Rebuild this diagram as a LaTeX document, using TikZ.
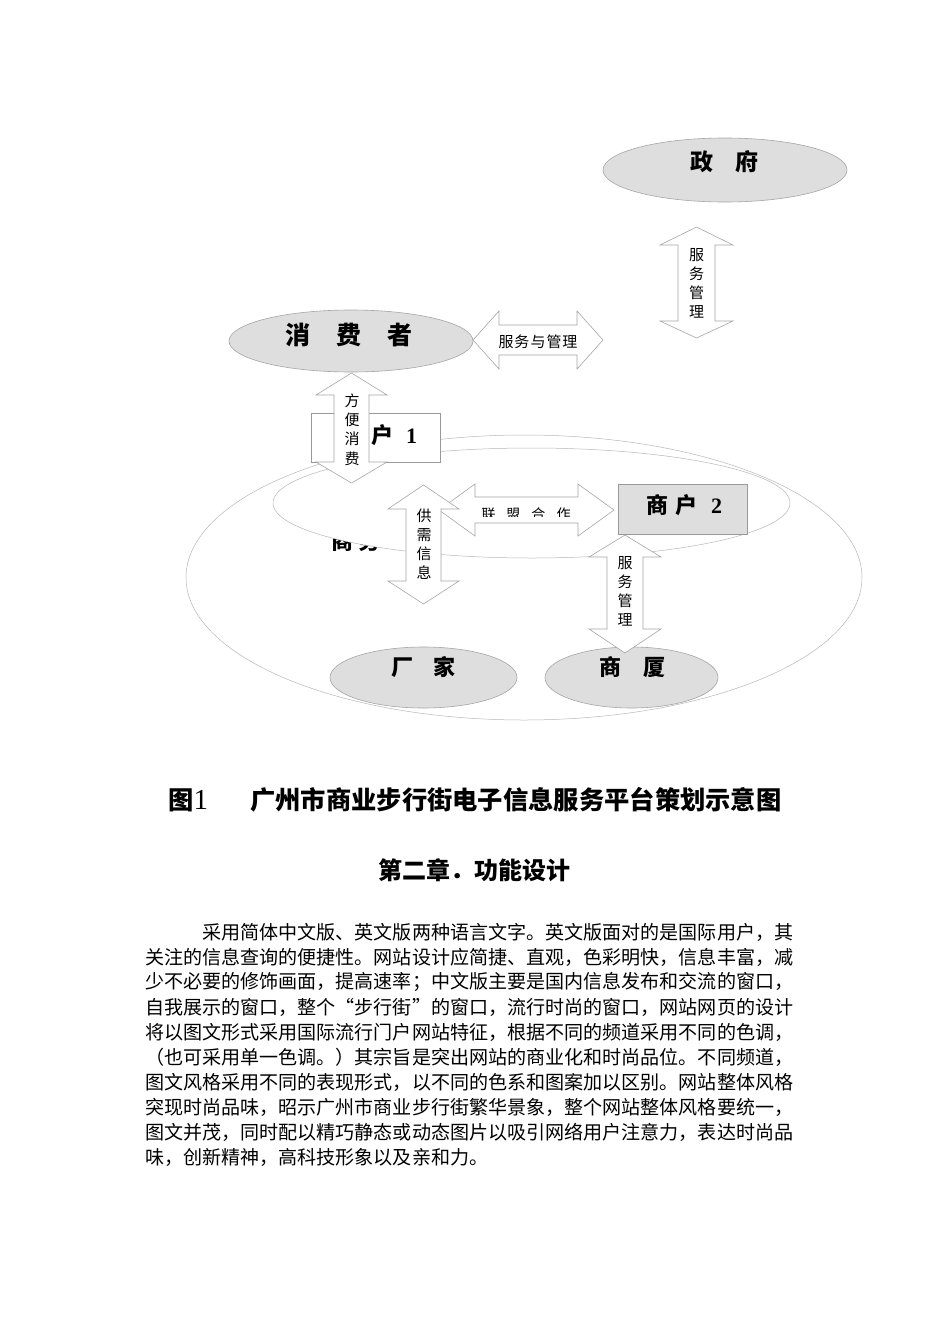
\documentclass[tikz,border=0pt]{standalone}
\usepackage{fontspec}
\setmainfont{Liberation Serif}
\newfontfamily\cjk{Noto Sans CJK SC}
\newcommand\QL{\makebox[1em][r]{“}}
\newcommand\QR{\makebox[1em][l]{”}}
\newcommand\fs[1]{\fontsize{#1}{#1}\selectfont}
% vertical double arrow: xc, half head, half shaft, ytop, yhead1, yhead2, ybot
\newcommand\VArr[7]{%
  \draw[arr] (#1,#4) -- ({#1+#2},#5) -- ({#1+#3},#5) -- ({#1+#3},#6) -- ({#1+#2},#6)
    -- (#1,#7) -- ({#1-#2},#6) -- ({#1-#3},#6) -- ({#1-#3},#5) -- ({#1-#2},#5) -- cycle;}
% horizontal double arrow: yc, half head, half shaft, xleft, xhead1, xhead2, xright
\newcommand\HArr[7]{%
  \draw[arr] (#4,#1) -- (#5,{#1-#2}) -- (#5,{#1-#3}) -- (#6,{#1-#3}) -- (#6,{#1-#2})
    -- (#7,#1) -- (#6,{#1+#2}) -- (#6,{#1+#3}) -- (#5,{#1+#3}) -- (#5,{#1+#2}) -- cycle;}
\tikzset{
  ell/.style={draw=black!35, fill=black!13, line width=0.6pt},
  big/.style={draw=black!28, line width=0.5pt},
  arr/.style={draw=black!35, fill=white, line width=0.6pt, line join=miter},
  box/.style={draw=black!40, line width=0.6pt},
  lab/.style={inner sep=0pt},
  albl/.style={inner sep=0pt, align=center, font=\cjk\fontsize{15}{19.2}\selectfont},
  body/.style={anchor=west, inner sep=0pt, font=\cjk\fontsize{19.06}{25}\selectfont},
}
\begin{document}
\begin{tikzpicture}[x=1pt,y=-1pt]
\useasboundingbox (0,0) rectangle (950,1344);
\fill[white] (0,0) rectangle (950,1344);

% big ellipses
\draw[big] (524,577.5) ellipse [x radius=338, y radius=142.5];
\node[lab, font=\cjk\bfseries\fs{22}] (sw) at (356,541) {商\hspace{6pt}务};
\draw[big, fill=white] (531.5,503) ellipse [x radius=258.5, y radius=55];

% gray ellipses
\draw[ell] (725,170) ellipse [x radius=122, y radius=32];
\node[lab, font=\cjk\bfseries\fs{23}] (gov) at (724.5,162) {政\hspace{22pt}府};
\draw[ell] (351,341) ellipse [x radius=122, y radius=31];
\node[lab, font=\cjk\bfseries\fs{25}] (cons) at (349,335) {消\hspace{26pt}费\hspace{26pt}者};
\draw[ell] (423.5,677.5) ellipse [x radius=93.5, y radius=30.5];
\node[lab, font=\cjk\bfseries\fs{22}] (fac) at (423.5,667) {厂\hspace{21pt}家};
\draw[ell] (631.5,677.5) ellipse [x radius=86.5, y radius=30.5];
\node[lab, font=\cjk\bfseries\fs{22}] (mall) at (632.5,667) {商\hspace{23pt}厦};

% merchant boxes
\draw[box, fill=white] (311,413) rectangle (440,462);
\node[lab, anchor=west, font=\cjk\bfseries\fs{22}] (m1) at (371,435) {户\hspace{13pt}\rmfamily 1};
\draw[box, fill=black!13] (618,484) rectangle (747,534);
\node[lab, font=\cjk\bfseries\fs{22}] (m2) at (684,505) {商\hspace{7pt}户\hspace{14pt}\rmfamily 2};

% arrows
\HArr{340}{29}{15}{473}{499}{577}{603}
\node[albl, font=\cjk\fs{15}] (a1) at (538,342) {服\hspace{1pt}务\hspace{1pt}与\hspace{1pt}管\hspace{1pt}理};
\VArr{696.5}{36.5}{18.5}{227}{245}{321}{338}
\node[albl] (a2) at (696.5,283.5) {服\\务\\管\\理};
\VArr{351.5}{35.5}{17.5}{373}{395}{462}{483}
\node[albl] (a3) at (352,429.5) {方\\便\\消\\费};
\HArr{510}{26}{13}{439}{475}{578}{614}
\begin{scope}
  \clip (478,497) rectangle (576,516);
  \node[lab, font=\cjk\fs{14}] (a4) at (526,514) {联\hspace{11pt}盟\hspace{11pt}合\hspace{11pt}作};
\end{scope}
\VArr{423.5}{35.5}{17.5}{485}{509}{581}{604}
\node[albl] (a5) at (424,544) {供\\需\\信\\息};
\VArr{625}{36}{18}{535}{557}{629}{653}
\node[albl] (a6) at (625,591.5) {服\\务\\管\\理};

% caption and heading
\node[anchor=west, inner sep=0pt, font=\cjk\bfseries\fs{25.3}] (fig) at (168,800) {图\rmfamily\mdseries\fontsize{29}{29}\selectfont 1};
\node[anchor=west, inner sep=0pt, font=\cjk\bfseries\fs{25.3}] (cap) at (250,800) {广州市商业步行街电子信息服务平台策划示意图};
\node[inner sep=0pt, font=\cjk\bfseries\fs{24}] (chap) at (474,870) {第二章．功能设计};

% body text
\node[body] (l1) at (145,932) {\hspace*{3em}采用简体中文版、英文版两种语言文字。英文版面对的是国际用户，其};
\node[body] (l2) at (145,957) {关注的信息查询的便捷性。网站设计应简捷、直观，色彩明快，信息丰富，减};
\node[body] (l3) at (145,982) {少不必要的修饰画面，提高速率；中文版主要是国内信息发布和交流的窗口，};
\node[body] (l4) at (145,1007) {自我展示的窗口，整个\QL 步行街\QR 的窗口，流行时尚的窗口，网站网页的设计};
\node[body] (l5) at (145,1032) {将以图文形式采用国际流行门户网站特征，根据不同的频道采用不同的色调，};
\node[body] (l6) at (145,1057) {（也可采用单一色调。）其宗旨是突出网站的商业化和时尚品位。不同频道，};
\node[body] (l7) at (145,1082) {图文风格采用不同的表现形式，以不同的色系和图案加以区别。网站整体风格};
\node[body] (l8) at (145,1107) {突现时尚品味，昭示广州市商业步行街繁华景象，整个网站整体风格要统一，};
\node[body] (l9) at (145,1132) {图文并茂，同时配以精巧静态或动态图片以吸引网络用户注意力，表达时尚品};
\node[body] (l10) at (145,1157) {味，创新精神，高科技形象以及亲和力。};
\end{tikzpicture}
\end{document}
